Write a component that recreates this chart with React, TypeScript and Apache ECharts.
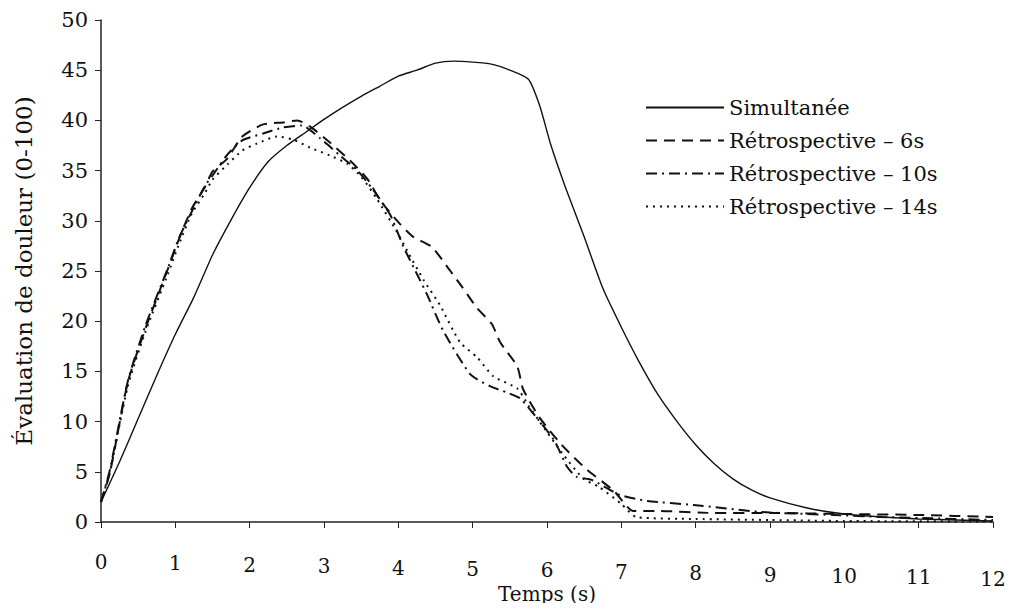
import React, { useEffect, useRef } from "react";
import * as echarts from "echarts";

const xTicks = [0, 1, 2, 3, 4, 5, 6, 7, 8, 9, 10, 11, 12];

const seriesNames = [
  "Simultanée",
  "Rétrospective – 6s",
  "Rétrospective – 10s",
  "Rétrospective – 14s",
];

const simultanee: [number, number][] = [
  [0, 2.0], [0.25, 6.0], [0.5, 10.3], [0.75, 14.6], [1, 18.7], [1.25, 22.4],
  [1.5, 26.6], [1.75, 30.1], [2, 33.3], [2.25, 35.9], [2.5, 37.5], [2.75, 38.8],
  [3, 40.1], [3.25, 41.3], [3.5, 42.4], [3.75, 43.4], [4, 44.4], [4.25, 45.0],
  [4.5, 45.7], [4.75, 45.9], [5, 45.8], [5.25, 45.6], [5.5, 45.0], [5.75, 44.1],
  [5.9, 41.5], [6.05, 37.6], [6.25, 33.3], [6.5, 28.4], [6.75, 23.3], [7, 19.4],
  [7.25, 15.8], [7.5, 12.6], [7.75, 10.0], [8, 7.7], [8.25, 5.8], [8.5, 4.3],
  [8.75, 3.2], [9, 2.4], [9.5, 1.4], [10, 0.8], [10.5, 0.5], [11, 0.3],
  [11.5, 0.2], [12, 0.1],
];

const retro6: [number, number][] = [
  [0, 2.0], [0.12, 4.9], [0.36, 13.9], [0.6, 19.3], [0.9, 25.2], [1.05, 28.2],
  [1.22, 31.2], [1.4, 33.4], [1.5, 34.9], [1.7, 36.2], [1.9, 38.4], [2.18, 39.6],
  [2.45, 39.8], [2.64, 40.0], [2.81, 39.4], [3.08, 37.8], [3.35, 36.0], [3.58, 34.2],
  [3.76, 32.0], [4.02, 29.7], [4.2, 28.4], [4.45, 27.4], [4.7, 25.0], [4.85, 23.5],
  [5.06, 21.3], [5.26, 19.7], [5.37, 17.9], [5.6, 15.5], [5.68, 13.2], [5.91, 10.3],
  [6.22, 7.5], [6.54, 5.2], [6.9, 3.1], [7.16, 1.1], [7.5, 1.1], [8.24, 0.9],
  [9, 0.9], [10, 0.8], [11, 0.7], [12, 0.5],
];

const retro10: [number, number][] = [
  [0, 2.0], [0.12, 5.2], [0.36, 14.0], [0.6, 19.6], [0.9, 25.3], [1.05, 28.3],
  [1.22, 30.9], [1.4, 33.5], [1.5, 34.5], [1.7, 36.6], [1.9, 38.0], [2.18, 38.7],
  [2.45, 39.3], [2.7, 39.5], [2.95, 38.2], [3.2, 36.6], [3.45, 35.0], [3.65, 33.2],
  [3.89, 30.6], [4.07, 27.4], [4.25, 24.7], [4.39, 22.6], [4.6, 19.1], [4.97, 14.7],
  [5.24, 13.5], [5.46, 12.9], [5.64, 12.3], [5.87, 10.3], [6.1, 8.1], [6.27, 5.5],
  [6.4, 4.5], [6.6, 4.2], [6.98, 2.7], [7.35, 2.1], [7.97, 1.7], [8.87, 1.0],
  [9.85, 0.7], [10.5, 0.5], [11, 0.4], [12, 0.2],
];

const retro14: [number, number][] = [
  [0, 2.0], [0.12, 5.0], [0.36, 13.5], [0.6, 19.0], [0.9, 24.7], [1.05, 27.7],
  [1.22, 30.7], [1.4, 32.8], [1.5, 34.1], [1.7, 35.6], [1.9, 37.0], [2.1, 37.7],
  [2.37, 38.4], [2.58, 38.1], [2.81, 37.3], [3.08, 36.5], [3.31, 35.7], [3.5, 34.4],
  [3.71, 32.2], [3.98, 28.9], [4.12, 27.0], [4.34, 24.1], [4.56, 21.6], [4.83, 17.9],
  [5.06, 16.4], [5.28, 14.5], [5.6, 13.3], [5.75, 11.6], [5.9, 10.0], [6.2, 6.9],
  [6.49, 4.3], [6.7, 3.5], [7.0, 1.8], [7.2, 0.5], [8, 0.3], [9, 0.2],
  [10, 0.1], [12, 0.05],
];

const FONT = "DejaVu Serif";

export default function App() {
  const ref = useRef<HTMLDivElement>(null);
  useEffect(() => {
    if (!ref.current) return;
    const chart = echarts.init(ref.current, undefined, { renderer: "svg" });
    const rich: Record<string, any> = {};
    xTicks.forEach((v) => {
      rich["s" + v] = {
        fontSize: 20,
        fontFamily: FONT,
        color: "#111",
        lineHeight: 22 + v * 2.8,
      };
    });
    const styles = [
      { type: "solid", width: 1.4 },
      { type: [11, 7], width: 2 },
      { type: [11, 5, 2, 5], width: 2 },
      { type: [2, 5], width: 2 },
    ];
    const datasets = [simultanee, retro6, retro10, retro14];
    chart.setOption({
      animation: false,
      backgroundColor: "#fff",
      textStyle: { fontFamily: FONT, color: "#111" },
      grid: { left: 101, right: 22, top: 20, bottom: 89 },
      legend: {
        orient: "vertical",
        left: 640,
        top: 92,
        itemWidth: 78,
        itemHeight: 14,
        itemGap: 12,
        data: seriesNames,
        itemStyle: { color: "transparent", borderColor: "transparent", borderWidth: 0 },
        textStyle: { fontSize: 21, fontFamily: FONT, color: "#111" },
      },
      xAxis: {
        type: "value",
        min: 0,
        max: 12,
        interval: 1,
        name: "Temps (s)",
        nameLocation: "middle",
        nameGap: 62,
        nameMoveOverlap: false,
        nameTextStyle: { fontSize: 20, fontFamily: FONT, color: "#111" },
        axisLine: { lineStyle: { color: "#222", width: 1.5 } },
        axisTick: { inside: false, length: 6, lineStyle: { color: "#222" } },
        splitLine: { show: false },
        axisLabel: {
          margin: 29,
          formatter: (v: number) => `{s${v}|${v}}`,
          rich,
        },
      },
      yAxis: {
        type: "value",
        min: 0,
        max: 50,
        interval: 5,
        name: "Évaluation de douleur (0-100)",
        nameLocation: "middle",
        nameGap: 66,
        nameMoveOverlap: false,
        nameTextStyle: { fontSize: 23, fontFamily: FONT, color: "#111" },
        axisLine: { show: true, lineStyle: { color: "#222", width: 1.5 } },
        axisTick: { show: true, length: 6, lineStyle: { color: "#222" } },
        splitLine: { show: false },
        axisLabel: { fontSize: 21, fontFamily: FONT, color: "#111", margin: 13 },
      },
      series: datasets.map((d, i) => ({
        name: seriesNames[i],
        type: "line",
        data: d,
        symbol: "none",
        smooth: 0.2,
        lineStyle: { color: "#111", ...styles[i] },
        itemStyle: { color: "#111" },
      })),
    });
    return () => chart.dispose();
  }, []);
  return <div ref={ref} style={{ width: 1015, height: 611, margin: -8 }} />;
}
